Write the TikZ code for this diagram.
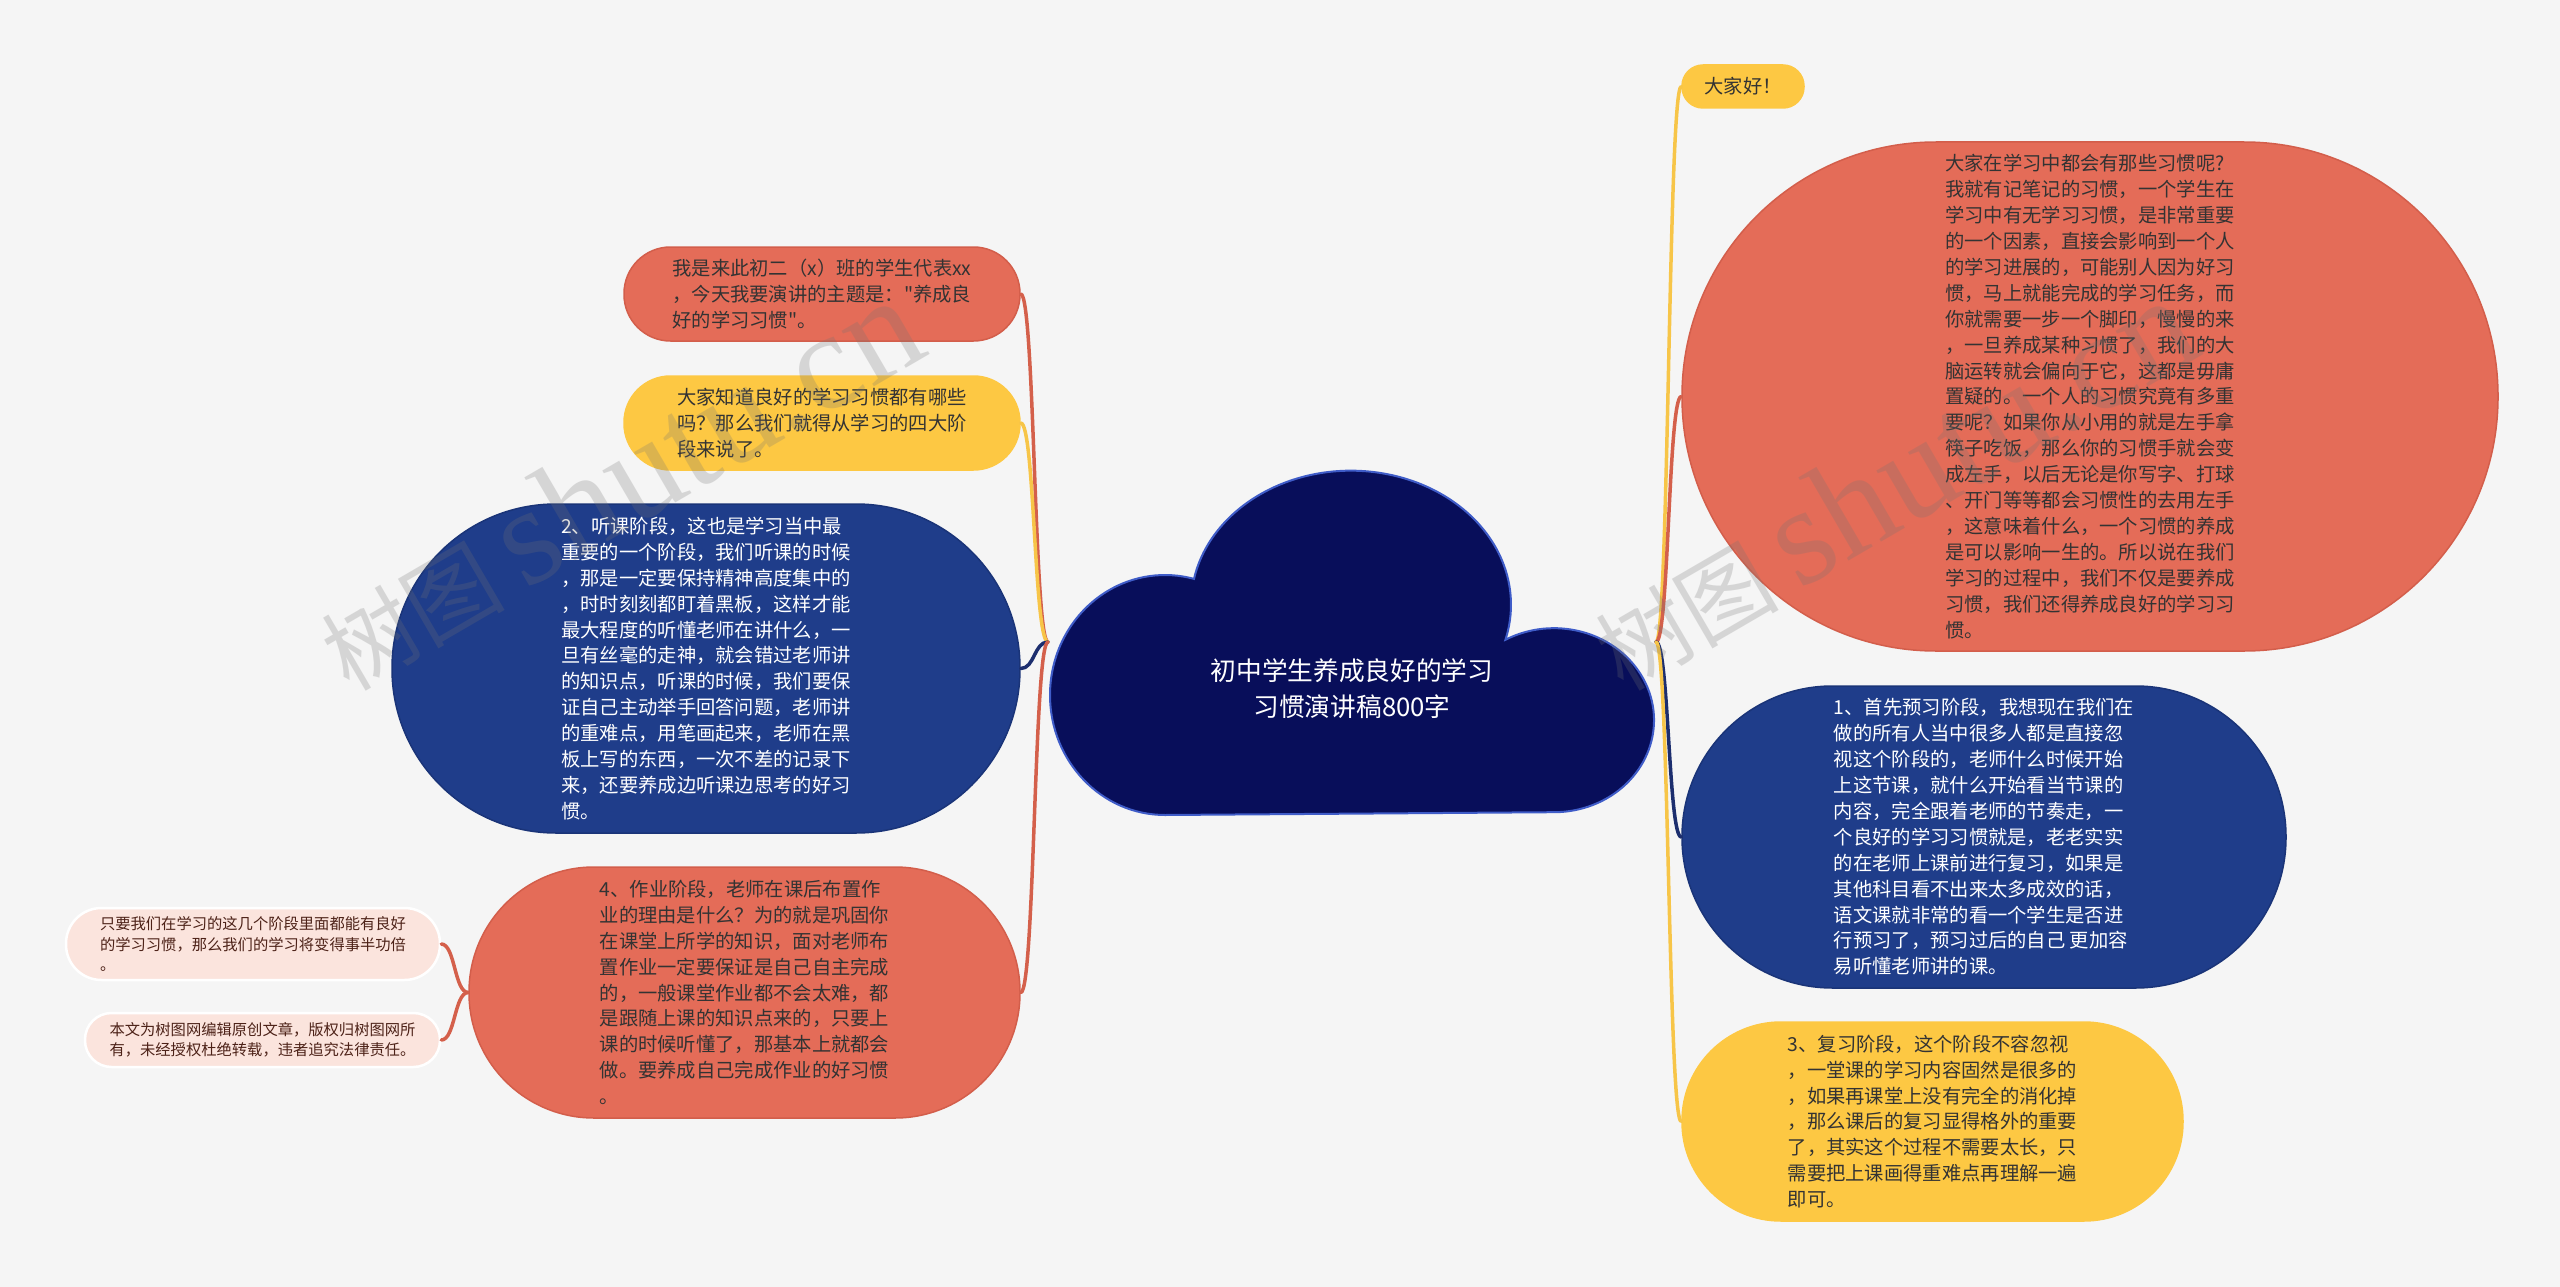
\documentclass[tikz,border=0pt]{standalone}
\usepackage{fontspec}
\setmainfont{Noto Sans CJK SC}[Ligatures=TeXOff]
\newfontfamily\wmlat{Liberation Serif}
\definecolor{bgc}{HTML}{F5F5F5}
\definecolor{cO}{HTML}{E46C58}
\definecolor{cOd}{HTML}{D35E4B}
\definecolor{cY}{HTML}{FDC843}
\definecolor{cB}{HTML}{1F3D8A}
\definecolor{cBd}{HTML}{1A3478}
\definecolor{cN}{HTML}{080E5A}
\definecolor{cNb}{HTML}{3F5CC8}
\definecolor{cP}{HTML}{FBE4DD}
\definecolor{cT}{HTML}{333333}
\definecolor{cTP}{HTML}{4D2218}
\definecolor{lO}{HTML}{D4604B}
\definecolor{lY}{HTML}{F7C548}
\definecolor{lB}{HTML}{1C2E6E}
\newcommand\fzM{\fontsize{19.3}{25.9}\selectfont}
\newcommand\fzS{\fontsize{15.3}{20.5}\selectfont}
\newcommand\fzT{\fontsize{25.7}{36}\selectfont}
\begin{document}
\begin{tikzpicture}[x=1pt,y=1pt,
  nO/.style={fill=cO,draw=cOd,line width=1.5pt,rounded corners=#1,inner sep=0pt,align=left,text=cT,font=\fzM},
  nY/.style={fill=cY,draw=cY,line width=1.5pt,rounded corners=#1,inner sep=0pt,align=left,text=cT,font=\fzM},
  nB/.style={fill=cB,draw=cBd,line width=1.5pt,rounded corners=#1,inner sep=0pt,align=left,text=white,font=\fzM},
  nP/.style={fill=cP,draw=white,line width=2.5pt,rounded corners=#1,inner sep=0pt,align=left,text=cTP,font=\fzS},
  cnO/.style={draw=lO,line width=3.5pt,line cap=round},
  cnY/.style={draw=lY,line width=3.5pt,line cap=round},
  cnB/.style={draw=lB,line width=3.5pt,line cap=round},
  wmark/.style={opacity=0.24,text=black!55,rotate=30.2,anchor=base west,inner sep=0pt}
]
\useasboundingbox (0,0) rectangle (2560,-1287);
\fill[bgc] (0,0) rectangle (2560,-1287);

% central cloud
\path[fill=cN,draw=cNb,line width=2pt] (1165,-815)
  arc[start angle=270,end angle=75.4,x radius=115,y radius=120]
  arc[start angle=168.9,end angle=-15.2,x radius=160,y radius=134]
  arc[start angle=119.1,end angle=-90,x radius=100,y radius=92] -- cycle;
\node[text=white,align=center,font=\fzT,inner sep=0pt] (T) at (1352,-689) {初中学生养成良好的学习\\习惯演讲稿800字};
\coordinate (LF) at (1048,-642);
\coordinate (RF) at (1656,-642);

% left side
\node[nO=46.5,minimum width=396,minimum height=94] (A) at (822,-294)
 {我是来此初二（x）班的学生代表xx\\，今天我要演讲的主题是："养成良\\好的学习习惯"。};
\node[nY=46.5,minimum width=396,minimum height=94] (B) at (822,-423)
 {大家知道良好的学习习惯都有哪些\\吗？那么我们就得从学习的四大阶\\段来说了。};
\node[nB=164,minimum width=628,minimum height=329] (C) at (706,-668.5)
 {2、听课阶段，这也是学习当中最\\重要的一个阶段，我们听课的时候\\，那是一定要保持精神高度集中的\\，时时刻刻都盯着黑板，这样才能\\最大程度的听懂老师在讲什么，一\\旦有丝毫的走神，就会错过老师讲\\的知识点，听课的时候，我们要保\\证自己主动举手回答问题，老师讲\\的重难点，用笔画起来，老师在黑\\板上写的东西，一次不差的记录下\\来，还要养成边听课边思考的好习\\惯。};
\node[nO=125,minimum width=551,minimum height=251] (D) at (744.5,-992.5)
 {4、作业阶段，老师在课后布置作\\业的理由是什么？为的就是巩固你\\在课堂上所学的知识，面对老师布\\置作业一定要保证是自己自主完成\\的，一般课堂作业都不会太难，都\\是跟随上课的知识点来的，只要上\\课的时候听懂了，那基本上就都会\\做。要养成自己完成作业的好习惯\\。};
\node[nP=35.5,minimum width=374,minimum height=72] (E) at (253,-944)
 {只要我们在学习的这几个阶段里面都能有良好\\的学习习惯，那么我们的学习将变得事半功倍\\。};
\node[nP=26.5,minimum width=355,minimum height=54] (F) at (262.5,-1040)
 {本文为树图网编辑原创文章，版权归树图网所\\有，未经授权杜绝转载，违者追究法律责任。};

% right side
\node[nY=21,minimum width=122,minimum height=43] (G) at (1743,-86.5) {大家好！};
\node[nO=254,minimum width=816,minimum height=509] (H) at (2090,-396.5)
 {大家在学习中都会有那些习惯呢?\\我就有记笔记的习惯，一个学生在\\学习中有无学习习惯，是非常重要\\的一个因素，直接会影响到一个人\\的学习进展的，可能别人因为好习\\惯，马上就能完成的学习任务，而\\你就需要一步一个脚印，慢慢的来\\，一旦养成某种习惯了，我们的大\\脑运转就会偏向于它，这都是毋庸\\置疑的。一个人的习惯究竟有多重\\要呢？如果你从小用的就是左手拿\\筷子吃饭，那么你的习惯手就会变\\成左手，以后无论是你写字、打球\\、开门等等都会习惯性的去用左手\\，这意味着什么，一个习惯的养成\\是可以影响一生的。所以说在我们\\学习的过程中，我们不仅是要养成\\习惯，我们还得养成良好的学习习\\惯。};
\node[nB=150.5,minimum width=604,minimum height=302] (I) at (1984,-837)
 {1、首先预习阶段，我想现在我们在\\做的所有人当中很多人都是直接忽\\视这个阶段的，老师什么时候开始\\上这节课，就什么开始看当节课的\\内容，完全跟着老师的节奏走，一\\个良好的学习习惯就是，老老实实\\的在老师上课前进行复习，如果是\\其他科目看不出来太多成效的话，\\语文课就非常的看一个学生是否进\\行预习了，预习过后的自己 更加容\\易听懂老师讲的课。};
\node[nY=99,minimum width=501,minimum height=199] (J) at (1932.5,-1121.5)
 {3、复习阶段，这个阶段不容忽视\\，一堂课的学习内容固然是很多的\\，如果再课堂上没有完全的消化掉\\，那么课后的复习显得格外的重要\\了，其实这个过程不需要太长，只\\需要把上课画得重难点再理解一遍\\即可。};

% connectors
\draw[cnO] (LF) .. controls +(-14,0) and +(14,0) .. (A.east);
\draw[cnY] (LF) .. controls +(-14,0) and +(14,0) .. (B.east);
\draw[cnB] (LF) .. controls +(-14,0) and +(14,0) .. (C.east);
\draw[cnO] (LF) .. controls +(-14,0) and +(14,0) .. (D.east);
\draw[cnO] (D.west) .. controls +(-14,0) and +(14,0) .. (E.east);
\draw[cnO] (D.west) .. controls +(-14,0) and +(14,0) .. (F.east);
\draw[cnY] (RF) .. controls +(13,0) and +(-13,0) .. (G.west);
\draw[cnO] (RF) .. controls +(13,0) and +(-13,0) .. (H.west);
\draw[cnB] (RF) .. controls +(13,0) and +(-13,0) .. (I.west);
\draw[cnY] (RF) .. controls +(13,0) and +(-13,0) .. (J.west);

% watermarks
\node[wmark] (wm1) at (349,-693) {{\fontsize{92}{92}\selectfont 树图}\hspace{20pt}{\wmlat\fontsize{140}{140}\selectfont shutu.cn}};
\node[wmark] (wm2) at (1623,-693) {{\fontsize{92}{92}\selectfont 树图}\hspace{20pt}{\wmlat\fontsize{140}{140}\selectfont shutu.cn}};
\end{tikzpicture}
\end{document}
